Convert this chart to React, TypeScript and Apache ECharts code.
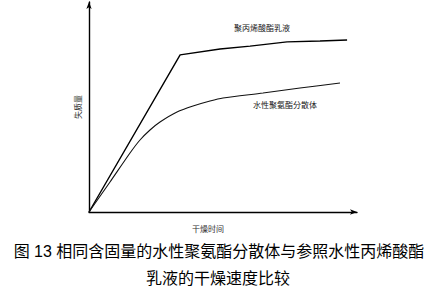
import React, { useEffect, useRef } from "react";
import * as echarts from "echarts";

const acrylicName = "聚丙烯酸酯乳液";
const puName = "水性聚氨酯分散体";
const xAxisName = "干燥时间";
const yAxisName = "失质量";
const titleLines = ["图 13 相同含固量的水性聚氨酯分散体与参照水性丙烯酸酯", "乳液的干燥速度比较"];

// [drying time, mass loss] in arbitrary units (0-100)
const acrylicX = [0, 34.0, 48.9, 60.1, 73.9, 86.2, 96.3];
const acrylicY = [0, 74.8, 77.6, 79.0, 81.0, 81.4, 81.9];
const puX = [0, 7.84, 15.3, 19.03, 22.76, 26.49, 32.84, 38.81, 45.15, 50.0, 64.93, 78.73, 93.66];
const puY = [0, 14.29, 28.1, 34.29, 39.05, 42.86, 47.62, 50.48, 52.86, 54.29, 56.67, 59.05, 61.43];

const FONT = "'Noto Sans CJK SC', 'Noto Sans', sans-serif";
const TITLE_FONT = "'Liberation Sans', 'Noto Sans CJK SC', sans-serif";

export default function App() {
  const ref = useRef<HTMLDivElement>(null);
  useEffect(() => {
    if (!ref.current) return;
    const chart = echarts.init(ref.current, null, { renderer: "svg" });
    const axisCommon = {
      type: "value",
      min: 0,
      max: 100,
      axisLabel: { show: false },
      axisTick: { show: false },
      splitLine: { show: false },
      nameLocation: "middle",
    };
    chart.setOption({
      animation: false,
      grid: { left: 89, top: 2, width: 268, height: 210 },
      xAxis: {
        ...axisCommon,
        name: xAxisName,
        nameGap: 12,
        nameTextStyle: { fontSize: 8, color: "#333", fontFamily: FONT, padding: [0, 30, 0, 0] },
        axisLine: {
          show: true,
          symbol: ["none", "arrow"],
          symbolSize: [4, 7],
          lineStyle: { color: "#000", width: 1.4 },
        },
      },
      yAxis: {
        ...axisCommon,
        name: yAxisName,
        nameGap: 8,
        nameRotate: 90,
        nameTextStyle: { fontSize: 8, color: "#333", fontFamily: FONT },
        axisLine: {
          show: true,
          symbol: ["none", "arrow"],
          symbolSize: [4, 7],
          lineStyle: { color: "#000", width: 1.4 },
        },
      },
      series: [
        {
          type: "line",
          name: acrylicName,
          data: acrylicX.map((x, i) => [x, acrylicY[i]]),
          showSymbol: false,
          lineStyle: { color: "#000", width: 1.4 },
        },
        {
          type: "line",
          name: puName,
          data: puX.map((x, i) => [x, puY[i]]),
          showSymbol: false,
          smooth: 0.25,
          lineStyle: { color: "#111", width: 1.1 },
        },
      ],
      graphic: [
        {
          type: "text",
          x: 262,
          y: 27,
          style: { text: acrylicName, fill: "#222", font: `8px ${FONT}`, align: "center", verticalAlign: "middle" },
        },
        {
          type: "text",
          x: 285,
          y: 104,
          style: { text: puName, fill: "#222", font: `8px ${FONT}`, align: "center", verticalAlign: "middle" },
        },
        {
          type: "text",
          x: 219,
          y: 251.5,
          style: { text: titleLines[0], fill: "#000", font: `16px ${TITLE_FONT}`, align: "center", verticalAlign: "middle" },
        },
        {
          type: "text",
          x: 218,
          y: 278.5,
          style: { text: titleLines[1], fill: "#000", font: `16px ${TITLE_FONT}`, align: "center", verticalAlign: "middle" },
        },
      ],
    });
    return () => chart.dispose();
  }, []);
  return (
    <div
      ref={ref}
      style={{ position: "fixed", left: 0, top: 0, width: 430, height: 289, background: "#fff" }}
    />
  );
}
